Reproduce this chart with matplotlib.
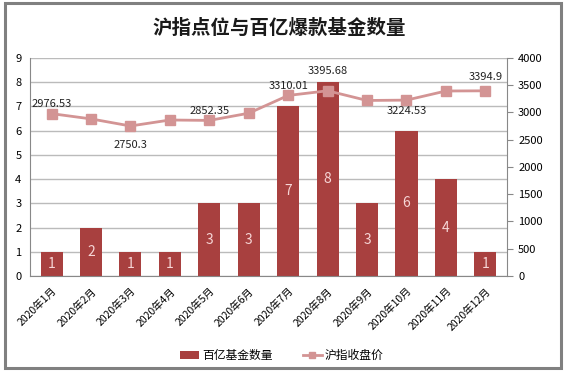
import numpy as np
import matplotlib
matplotlib.use('Agg')
import matplotlib.pyplot as plt
from matplotlib.patches import Rectangle

plt.rcParams['font.family'] = ['Noto Sans CJK SC', 'DejaVu Sans']

# Data
months = ['2020年1月', '2020年2月', '2020年3月', '2020年4月', '2020年5月', '2020年6月',
          '2020年7月', '2020年8月', '2020年9月', '2020年10月', '2020年11月', '2020年12月']
fund_counts = [1, 2, 1, 1, 3, 3, 7, 8, 3, 6, 4, 1]
index_close = [2976.53, 2880.30, 2750.30, 2860.08, 2852.35, 2984.67,
               3310.01, 3395.68, 3218.05, 3224.53, 3391.76, 3394.9]
# labelled line points: vertical offset of the label in points
label_off = {0: 7, 2: -14, 4: 7, 6: 7, 7: 14, 9: -8, 11: 10}

bar_color = '#A8403F'
line_color = '#D39494'

fig = plt.figure(figsize=(5.64, 3.73), dpi=100)
fig.patches.append(Rectangle((0.008, 0.013), 0.987, 0.978, transform=fig.transFigure,
                             fill=False, edgecolor='#808080', linewidth=2.2))

ax = fig.add_axes([0.053, 0.26, 0.846, 0.585])
x = np.arange(len(months))

ax.bar(x, fund_counts, width=0.56, color=bar_color, zorder=2, label='百亿基金数量')
for xi, v in zip(x, fund_counts):
    ax.text(xi, v / 2, str(v), ha='center', va='center', color='#F6D6D6',
            fontsize=10, zorder=3)

ax.set_ylim(0, 9)
ax.set_yticks(range(10))
ax.set_xlim(-0.55, 11.55)
ax.set_xticks(x)
ax.set_xticklabels(months, rotation=45, ha='right', rotation_mode='anchor', fontsize=7.5)
ax.tick_params(axis='y', labelsize=8, length=0, pad=6)
ax.tick_params(axis='x', length=0, pad=7)
ax.grid(axis='y', color='#BBBBBB', linewidth=1, zorder=0)
for s in ['top', 'right']:
    ax.spines[s].set_visible(False)
ax.spines['left'].set_color('#888888')
ax.spines['bottom'].set_color('#888888')

ax2 = ax.twinx()
ax2.plot(x, index_close, color=line_color, linewidth=2, marker='s', markersize=7,
         zorder=4, label='沪指收盘价')
ax2.set_ylim(0, 4000)
ax2.set_yticks(range(0, 4001, 500))
ax2.tick_params(axis='y', labelsize=8, length=4, color='#888888', pad=4)
for s in ['top', 'left', 'bottom']:
    ax2.spines[s].set_visible(False)
ax2.spines['right'].set_color('#888888')

for i, off in label_off.items():
    ax2.annotate(f'{index_close[i]:g}', (x[i], index_close[i]),
                 xytext=(0, off), textcoords='offset points',
                 ha='center', va='center', fontsize=8, color='#222222')

fig.text(0.495, 0.925, '沪指点位与百亿爆款基金数量', ha='center', va='center',
         fontsize=14, fontweight='bold', color='#1a1a1a')

h1, l1 = ax.get_legend_handles_labels()
h2, l2 = ax2.get_legend_handles_labels()
leg = fig.legend(h1 + h2, l1 + l2, loc='center', bbox_to_anchor=(0.5, 0.047), ncol=2,
                 frameon=False, fontsize=8.5, handlelength=1.6, handletextpad=0.3,
                 columnspacing=2.5)
leg.legend_handles[1].set_markersize(5)

fig.savefig('out.png', dpi=100)
